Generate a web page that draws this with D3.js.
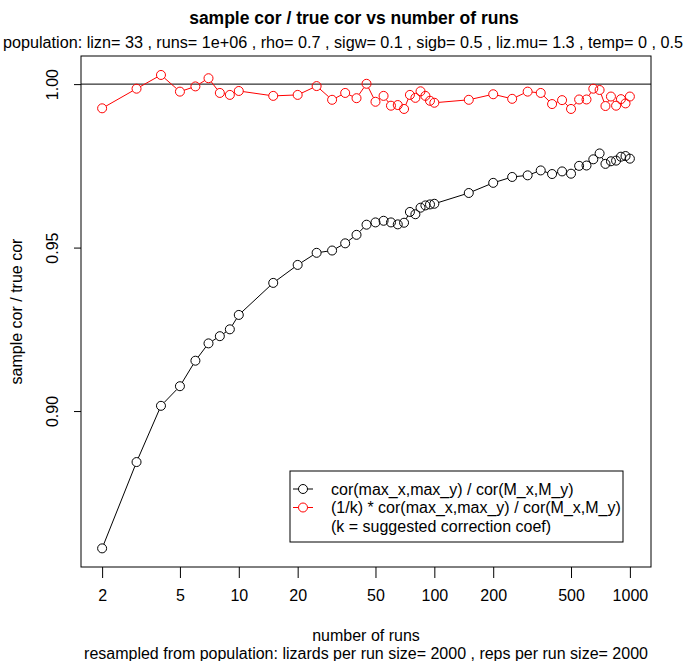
<!DOCTYPE html>
<html><head><meta charset="utf-8">
<script src="https://cdn.jsdelivr.net/npm/d3@7"></script>
<style>body{margin:0;background:#fff}svg{display:block}text{font-family:"Liberation Sans",Arial,sans-serif}</style>
</head><body><svg id="c" width="685" height="661"></svg>
<script>
const runs = [2,3,4,5,6,7,8,9,10,15,20,25,30,35,40,45,50,55,60,65,70,75,80,85,90,95,100,150,200,250,300,350,400,450,500,550,600,650,700,750,800,850,900,950,1000];
const rawRatio = [0.8580,0.8844,0.9016,0.9076,0.9154,0.9207,0.9229,0.9250,0.9294,0.9392,0.9447,0.9484,0.9491,0.9513,0.9539,0.9570,0.9577,0.9582,0.9577,0.9571,0.9576,0.9609,0.9602,0.9622,0.9629,0.9632,0.9634,0.9667,0.9698,0.9716,0.9721,0.9736,0.9725,0.9733,0.9726,0.9750,0.9751,0.9770,0.9788,0.9756,0.9764,0.9766,0.9778,0.9780,0.9772];
const corrRatio = [0.9926,0.9986,1.0028,0.9977,0.9993,1.0018,0.9973,0.9967,0.9979,0.9964,0.9967,0.9994,0.9952,0.9973,0.9957,1.0001,0.9946,0.9964,0.9934,0.9936,0.9924,0.9967,0.9958,0.9978,0.9964,0.9949,0.9943,0.9952,0.9969,0.9955,0.9977,0.9973,0.9939,0.9951,0.9924,0.9953,0.9953,0.9986,0.9982,0.9933,0.9962,0.9934,0.9954,0.9941,0.9962];
const xTicks = [2,5,10,20,50,100,200,500,1000];
const yTicks = [0.90,0.95,1.00];
const legendLabels = ["cor(max_x,max_y) / cor(M_x,M_y)","(1/k) * cor(max_x,max_y) / cor(M_x,M_y)","(k = suggested correction coef)"];
const seriesColors = ["#000000","#ff0000"];

const svg = d3.select("#c");
const L=81,R=651,T=56,B=567;
const FS=16;
const lx0=Math.log10(2), lx1=3, ext=(lx1-lx0)*0.04;
const x = d3.scaleLog().domain([Math.pow(10,lx0-ext),Math.pow(10,lx1+ext)]).range([L,R]);
const y = d3.scaleLinear().domain([0.8523,1.0086]).range([B,T]);

// title
svg.append("text").attr("x",354).attr("y",24).attr("text-anchor","middle").attr("font-size",17.5).attr("font-weight","bold").text("sample cor / true cor vs number of runs");
svg.append("text").attr("x",343).attr("y",48).attr("text-anchor","middle").attr("font-size",FS).attr("textLength",680).attr("lengthAdjust","spacingAndGlyphs").text("population: lizn= 33 , runs= 1e+06 , rho= 0.7 , sigw= 0.1 , sigb= 0.5 , liz.mu= 1.3 , temp= 0 , 0.5");

// axes
const xa = svg.append("g").attr("transform",`translate(0,${B})`).call(d3.axisBottom(x).tickValues(xTicks).tickFormat(d3.format("d")).tickSize(11).tickPadding(12).tickSizeOuter(0));
xa.select(".domain").remove();
xa.selectAll("text").attr("font-size",FS).attr("font-family","Liberation Sans, Arial, sans-serif");
const ya = svg.append("g").attr("transform",`translate(${L},0)`).call(d3.axisLeft(y).tickValues(yTicks).tickSize(7).tickSizeOuter(0));
ya.select(".domain").remove();
ya.selectAll("text").remove();
ya.selectAll(".tick").append("text").attr("transform","translate(-29,0) rotate(-90)").attr("text-anchor","middle").attr("font-size",FS).attr("fill","#000").attr("dy","0.35em").attr("font-family","Liberation Sans, Arial, sans-serif").text(d=>d3.format(".2f")(d));

svg.append("rect").attr("x",L).attr("y",T).attr("width",R-L).attr("height",B-T).attr("fill","none").attr("stroke","#000").attr("stroke-width",1);

// axis titles
svg.append("text").attr("x",366).attr("y",641).attr("text-anchor","middle").attr("font-size",FS).text("number of runs");
svg.append("text").attr("x",366).attr("y",659).attr("text-anchor","middle").attr("font-size",FS).text("resampled from population: lizards per run size= 2000 , reps per run size= 2000");
svg.append("text").attr("transform",`translate(22,${(T+B)/2}) rotate(-90)`).attr("text-anchor","middle").attr("font-size",FS).text("sample cor / true cor");

// abline h=1
svg.append("line").attr("x1",L).attr("x2",R).attr("y1",y(1)).attr("y2",y(1)).attr("stroke","#000").attr("stroke-width",1);

[rawRatio,corrRatio].forEach((vals,i)=>{
  const pts = runs.map((r,j)=>[r,vals[j]]);
  const g = svg.append("g");
  pts.forEach((p,j)=>{
    if(j===0) return;
    const a=pts[j-1], x0=x(a[0]),y0=y(a[1]),x1=x(p[0]),y1=y(p[1]);
    const dx=x1-x0, dy=y1-y0, len=Math.hypot(dx,dy), gap=4.5;
    if(len>2*gap){
      g.append("line").attr("x1",x0+dx/len*gap).attr("y1",y0+dy/len*gap).attr("x2",x1-dx/len*gap).attr("y2",y1-dy/len*gap).attr("stroke",seriesColors[i]).attr("stroke-width",1);
    }
  });
  g.selectAll("circle").data(pts).join("circle").attr("cx",d=>x(d[0])).attr("cy",d=>y(d[1])).attr("r",4.5).attr("fill","none").attr("stroke",seriesColors[i]).attr("stroke-width",1);
});

// legend
const lg = svg.append("g");
lg.append("rect").attr("x",290).attr("y",471).attr("width",333).attr("height",71).attr("fill","#fff").attr("stroke","#000");
const rowsY=[489,507.5,526];
legendLabels.forEach((t,i)=>{
  if(i<2){
    lg.append("line").attr("x1",293).attr("x2",313).attr("y1",rowsY[i]).attr("y2",rowsY[i]).attr("stroke",seriesColors[i]);
    lg.append("circle").attr("cx",303).attr("cy",rowsY[i]).attr("r",4.5).attr("fill","#fff").attr("stroke",seriesColors[i]);
  }
  lg.append("text").attr("x",331).attr("y",rowsY[i]).attr("dy","0.35em").attr("font-size",FS).text(t);
});
</script></body></html>
